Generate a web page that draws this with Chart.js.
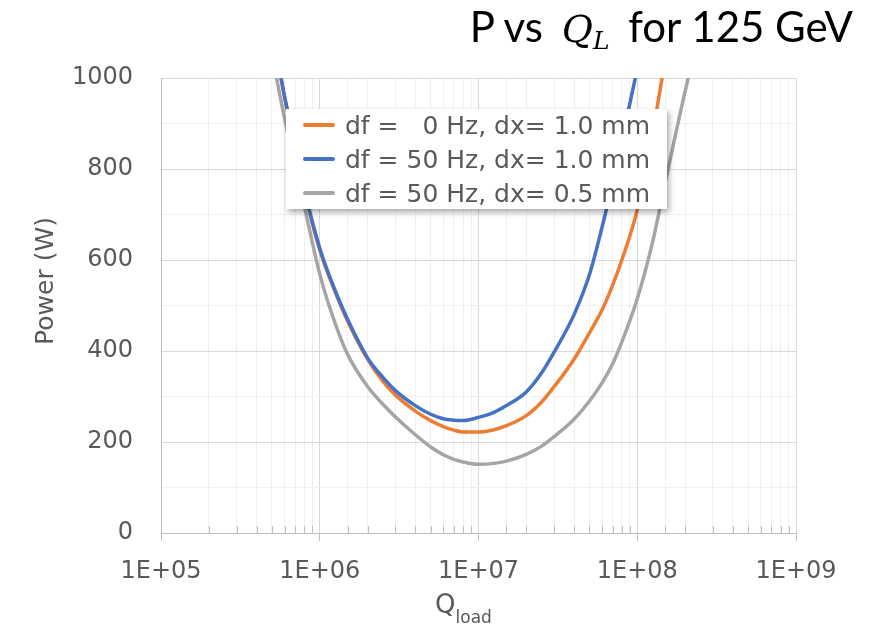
<!DOCTYPE html>
<html>
<head>
<meta charset="utf-8">
<script src="https://cdn.jsdelivr.net/npm/chart.js@4.4.1/dist/chart.umd.min.js"></script>
<style>
  body { margin: 0; background: #fff; }
  #wrap { position: relative; width: 884px; height: 629px; }
  #title {
    position: absolute; top: 3px; right: 31px;
    font-family: Lato, 'Open Sans', sans-serif; font-size: 42px; line-height: 46px;
    color: #000; white-space: nowrap;
  }
  #title i { font-family: 'DejaVu Serif', serif; font-size: 38px; margin-left: 8px; }
  #title sub { font-size: 25px; font-style: italic; font-family: 'DejaVu Serif', serif; vertical-align: -7px; margin-right: 8px; }
  #legend {
    position: absolute; left: 286px; top: 109px; width: 381px; height: 100px;
    background: #fff; box-shadow: 2px 3px 6px rgba(0, 0, 0, 0.35);
    font-family: 'DejaVu Sans', sans-serif; font-size: 25px; color: #595959;
  }
  .item { position: absolute; left: 0; height: 34px; display: flex; align-items: center; white-space: pre; }
  .swatch { width: 32px; height: 4px; margin-left: 17px; margin-right: 10px; border-radius: 2px; }
</style>
</head>
<body>
<div id="wrap">
  <canvas id="chart" width="884" height="629"></canvas>
  <div id="title">P vs <i>Q</i><sub>L</sub> for 125 GeV</div>
  <div id="legend"></div>
</div>
<script>
// Q_load sample points
const qLoad = [5e5, 6e5, 7e5, 8e5, 1e6, 1.25e6, 1.5e6, 2e6, 2.5e6, 3e6, 4e6, 5e6, 6e6, 7e6, 8e6,
  1e7, 1.25e7, 1.5e7, 2e7, 2.5e7, 3e7, 4e7, 5e7, 6e7, 7e7, 8e7, 1e8, 1.25e8, 1.5e8, 2e8, 2.5e8];

// Power (W) per series, null = off the chart
const powerDf0dx10 = [1110, 958, 848, 752, 622, 530, 465, 382, 333, 303, 268, 247, 234, 226, 222,
  222, 227, 236, 258, 288, 322, 382, 440, 490, 545, 600, 710, 880, 1040, null, null];
const powerDf50dx10 = [1110, 960, 850, 755, 626, 533, 469, 385, 342, 313, 280, 261, 251, 248, 247,
  254, 265, 280, 310, 352, 398, 480, 568, 672, 770, 862, 1020, null, null, null, null];
const powerDf50dx05 = [1050, 912, 805, 718, 569, 461, 392, 322, 283, 255, 216, 189, 172, 162, 156,
  151, 153, 158, 173, 191, 212, 250, 290, 330, 372, 420, 515, 640, 770, 970, 1110];

const seriesLabels = ['df =   0 Hz, dx= 1.0 mm', 'df = 50 Hz, dx= 1.0 mm', 'df = 50 Hz, dx= 0.5 mm'];
const seriesColors = ['#ED7D31', '#4472C4', '#A5A5A5'];
const seriesValues = [powerDf0dx10, powerDf50dx10, powerDf50dx05];

const yTickLabels = [0, 200, 400, 600, 800, 1000];

const toPoints = (vals) => qLoad.map((q, i) => ({ x: q, y: vals[i] })).filter(p => p.y !== null);

const isDecade = (v) => Math.abs(Math.log10(v) - Math.round(Math.log10(v))) < 1e-9;

const axisExtras = {
  id: 'axisExtras',
  beforeDatasetsDraw(chart) {
    // minor tick marks pointing into the plot
    const { ctx, chartArea } = chart;
    const xs = chart.scales.x;
    ctx.save();
    ctx.strokeStyle = '#BFBFBF';
    ctx.lineWidth = 1;
    xs.ticks.forEach(t => {
      if (isDecade(t.value)) return;
      const px = Math.round(xs.getPixelForValue(t.value)) + 0.5;
      ctx.beginPath();
      ctx.moveTo(px, chartArea.bottom);
      ctx.lineTo(px, chartArea.bottom - 7);
      ctx.stroke();
    });
    ctx.restore();
  },
  afterDraw(chart) {
    const { ctx, chartArea } = chart;
    ctx.save();
    ctx.fillStyle = '#595959';
    ctx.textAlign = 'center';
    ctx.textBaseline = 'middle';
    ctx.font = '25px "DejaVu Sans"';
    ctx.translate(chartArea.left - 115, 281);
    ctx.rotate(-Math.PI / 2);
    ctx.fillText('Power (W)', 0, 0);
    ctx.restore();

    // Q with "load" subscript
    ctx.save();
    ctx.fillStyle = '#595959';
    ctx.textBaseline = 'alphabetic';
    ctx.textAlign = 'left';
    ctx.font = '26px "DejaVu Sans"';
    const wQ = ctx.measureText('Q').width;
    ctx.font = '17px "DejaVu Sans"';
    const wSub = ctx.measureText('load').width;
    const cx = (chartArea.left + chartArea.right) / 2 - 15;
    const x0 = cx - (wQ + wSub) / 2;
    ctx.font = '26px "DejaVu Sans"';
    ctx.fillText('Q', x0, 613);
    ctx.font = '17px "DejaVu Sans"';
    ctx.fillText('load', x0 + wQ, 623);
    ctx.restore();
  }
};

const chart = new Chart(document.getElementById('chart'), {
  type: 'line',
  data: {
    datasets: seriesValues.map((vals, i) => ({
      label: seriesLabels[i],
      data: toPoints(vals),
      borderColor: seriesColors[i],
      backgroundColor: seriesColors[i],
      borderWidth: 3.5,
      pointRadius: 0,
      cubicInterpolationMode: 'monotone',
      order: 2 - i
    }))
  },
  options: {
    responsive: false,
    animation: false,
    devicePixelRatio: 1,
    layout: { padding: { top: 78, right: 88, left: 0, bottom: 0 } },
    plugins: { legend: { display: false }, tooltip: { enabled: false } },
    scales: {
      x: {
        type: 'logarithmic',
        min: 1e5,
        max: 1e9,
        afterFit: (s) => { s.height = 96; },
        border: { color: '#BFBFBF', width: 1 },
        grid: {
          color: (c) => (c.tick && isDecade(c.tick.value)) ? '#D9D9D9' : '#F0F0F0',
          tickColor: (c) => (c.tick && isDecade(c.tick.value)) ? '#BFBFBF' : 'rgba(0,0,0,0)',
          tickLength: 8
        },
        ticks: {
          autoSkip: false,
          maxRotation: 0,
          padding: 16,
          color: '#595959',
          font: { family: 'DejaVu Sans', size: 24 },
          callback: (v) => {
            if (!isDecade(v)) return '';
            const e = Math.round(Math.log10(v));
            return '1E+' + String(e).padStart(2, '0');
          }
        }
      },
      y: {
        min: 0,
        max: 1000,
        afterFit: (s) => { s.width = 161; },
        border: { color: '#BFBFBF', width: 1 },
        grid: {
          color: (c) => (c.tick && c.tick.value % 200 === 0) ? '#D9D9D9' : '#F0F0F0',
          drawTicks: false
        },
        ticks: {
          stepSize: 100,
          padding: 28,
          color: '#595959',
          font: { family: 'DejaVu Sans', size: 24 },
          callback: (v) => yTickLabels.includes(v) ? String(v) : ''
        }
      }
    }
  },
  plugins: [axisExtras]
});

// legend box drawn over the plot
const legendEl = document.getElementById('legend');
seriesLabels.forEach((label, i) => {
  const row = document.createElement('div');
  row.className = 'item';
  row.style.top = (16 + i * 34 - 17) + 'px';
  const sw = document.createElement('span');
  sw.className = 'swatch';
  sw.style.background = seriesColors[i];
  const txt = document.createElement('span');
  txt.textContent = label;
  row.appendChild(sw);
  row.appendChild(txt);
  legendEl.appendChild(row);
});
</script>
</body>
</html>
